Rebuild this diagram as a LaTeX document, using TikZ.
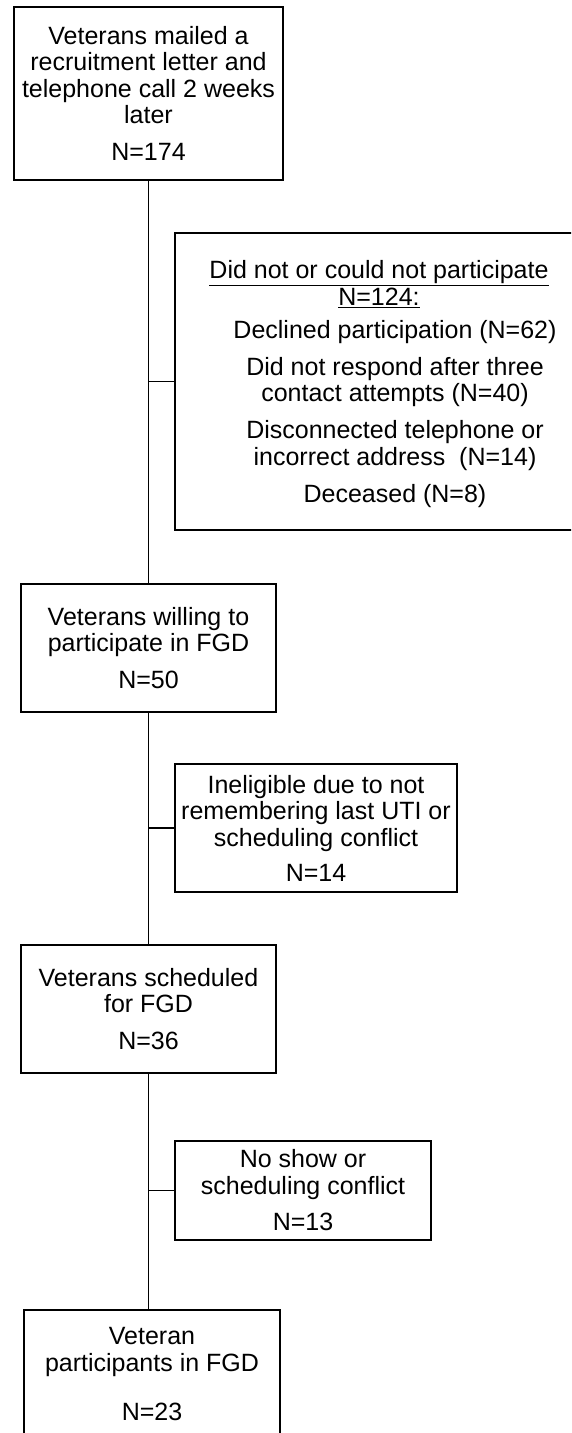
\documentclass[tikz,border=0pt]{standalone}
\usepackage{fontspec}
\setmainfont{Liberation Sans}
\usepackage{tikz}
\usetikzlibrary{positioning}
\tikzset{
  flow box/.style={
    rectangle,
    draw=black,
    line width=1.8pt,
    align=center,
    inner sep=2pt,
    font=\fontsize{25}{26.5}\selectfont,
  },
  flow main/.style={flow box, minimum width=255pt, minimum height=128pt},
  flow side/.style={flow box, minimum height=128pt},
  flow text/.style={
    align=center,
    inner sep=0pt,
    font=\fontsize{25}{26.5}\selectfont,
  },
  flow line/.style={line width=1.8pt},
}

\begin{document}
\begin{tikzpicture}[x=1pt,y=-1pt]
  \useasboundingbox (0,0) rectangle (571,1433);
  \clip (0,0) rectangle (571,1433);

  % main column
  \node[flow main, minimum width=269pt, minimum height=173pt] (mailed) at (148.5,93.5)
    {Veterans mailed a\\recruitment letter and\\telephone call 2 weeks\\later\\[10.5pt]N=174};
  \node[flow main] (willing) at (148.5,648)
    {Veterans willing to\\participate in FGD\\[10.5pt]N=50};
  \node[flow main] (sched) at (148.5,1009)
    {Veterans scheduled\\for FGD\\[10pt]N=36};
  \node[flow main, minimum width=256pt] (final) at (152,1374)
    {Veteran\\participants in FGD\\[22.5pt]N=23};

  % exclusions
  \node[flow side, minimum width=440pt, minimum height=297pt] (notpart) at (395,381.5) {};
  \node[flow text] (notparthead) at (379,284)
    {\underline{Did not or could not participate}\\\underline{N=124:}};
  \node[flow text] (notpartlist) at (395,414)
    {Declined participation (N=62)\\[10.5pt]Did not respond after three\\contact attempts (N=40)\\[10.5pt]Disconnected telephone or\\incorrect address\ \ (N=14)\\[10.5pt]Deceased (N=8)};
  \node[flow side, minimum width=282pt] (inelig) at (316,828)
    {Ineligible due to not\\remembering last UTI or\\scheduling conflict\\[8.5pt]N=14};
  \node[flow side, minimum width=256pt, minimum height=99pt] (noshow) at (303,1190.5)
    {No show or\\scheduling conflict\\[10pt]N=13};

  \draw[flow line] (mailed.south) -- (willing.north);
  \draw[flow line] (willing.south) -- (sched.north);
  \draw[flow line] (sched.south) -- (sched.south |- final.north);
  \draw[flow line] (notpart.west) -- (notpart.west -| mailed.south);
  \draw[flow line] (inelig.west) -- (inelig.west -| willing.south);
  \draw[flow line] (noshow.west) -- (noshow.west -| sched.south);
\end{tikzpicture}
\end{document}
